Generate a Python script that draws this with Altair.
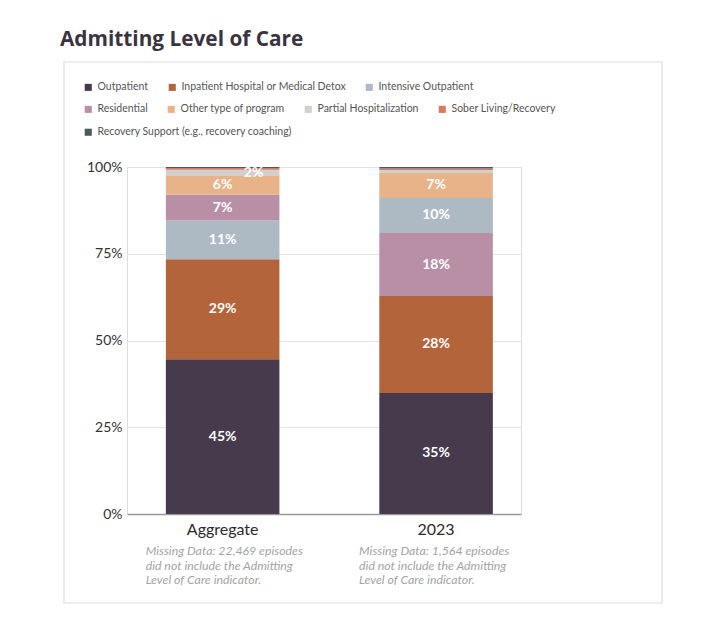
import altair as alt
import pandas as pd

FONT = "Lato"

groups = ["Aggregate", "2023"]
categories = [
    "Outpatient",
    "Inpatient Hospital or Medical Detox",
    "Intensive Outpatient",
    "Residential",
    "Other type of program",
    "Partial Hospitalization",
    "Sober Living/Recovery",
    "Recovery Support (e.g., recovery coaching)",
]
colors = ["#463a4c", "#b3643a", "#adbac4", "#b98fa6", "#e8b388", "#d0d0d0", "#dc7862", "#4b5b5c"]
aggregate_vals = [44.6, 28.8, 11.2, 7.4, 5.6, 1.6, 0.5, 0.3]
y2023_vals = [34.9, 27.9, 10.1, 18.2, 7.2, 0.8, 0.5, 0.4]
notes = [
    "Missing Data: 22,469 episodes\ndid not include the Admitting\nLevel of Care indicator.",
    "Missing Data: 1,564 episodes\ndid not include the Admitting\nLevel of Care indicator.",
]
legend_rows = [[0, 1, 2], [3, 4, 5, 6], [7]]
title_text = "Admitting Level of Care"
y_ticks = [0, 25, 50, 75, 100]

rows = []
for g, vals in zip(groups, [aggregate_vals, y2023_vals]):
    for c, v in zip(categories, vals):
        rows.append({"grp": g, "cat": c, "val": v})
df = pd.DataFrame(rows)
notes_df = pd.DataFrame({"grp": groups, "note": notes})
one = pd.DataFrame({"t": [title_text]})

W, H = 394, 347

x_enc = alt.X(
    "grp:N", sort=groups,
    scale=alt.Scale(paddingInner=0.468, paddingOuter=0.157, align=0.58),
    axis=alt.Axis(title=None, labelAngle=0, labelFontSize=16, labelColor="#2b2b2b",
                  labelPadding=7, ticks=False, domain=True, domainColor="#9a9a9a",
                  domainWidth=1.5, labelFont=FONT, grid=False),
)
y_scale = alt.Scale(domain=[0, 100])
y_axis = alt.Axis(title=None, values=y_ticks, labelExpr="datum.value + '%'", ticks=False,
                  domain=False, grid=True, gridColor="#e2e2e2", labelFontSize=14,
                  labelColor="#333333", labelPadding=5, labelFont=FONT)

base = alt.Chart(df).transform_stack(
    stack="val", groupby=["grp"], as_=["y0", "y1"],
    sort=[alt.SortField("val", order="descending")],
)

legend_tops = [-85, -63, -40]
bar_layers = []
for r, idxs in enumerate(legend_rows):
    cats = [categories[i] for i in idxs]
    cols = [colors[i] for i in idxs]
    layer = base.transform_filter(
        alt.FieldOneOfPredicate(field="cat", oneOf=cats)
    ).mark_bar().encode(
        x=x_enc,
        y=alt.Y("y0:Q", scale=y_scale, axis=y_axis),
        y2="y1:Q",
        color=alt.Color(
            "cat:N",
            scale=alt.Scale(domain=cats, range=cols),
            legend=alt.Legend(
                title=None, orient="none", direction="horizontal", columns=len(cats),
                legendX=-44, legendY=legend_tops[r], symbolType="square", symbolSize=50,
                symbolStrokeWidth=0, labelFontSize=10.5, labelColor="#555555",
                labelFont=FONT, columnPadding=18, labelOffset=4, padding=0,
                labelLimit=400,
            ),
        ),
    )
    bar_layers.append(layer)

labels_big = base.transform_filter("datum.val >= 3").transform_calculate(
    mid="(datum.y0 + datum.y1) / 2", lbl="format(datum.val, '.0f') + '%'"
).mark_text(color="white", fontWeight="bold", fontSize=14, font=FONT, baseline="middle").encode(
    x=x_enc, y=alt.Y("mid:Q", scale=y_scale, axis=y_axis), text="lbl:N"
)
labels_small = base.transform_filter("datum.val >= 1.5 && datum.val < 3").transform_calculate(
    mid="(datum.y0 + datum.y1) / 2", lbl="format(datum.val, '.0f') + '%'"
).mark_text(color="white", fontWeight="bold", fontSize=14, font=FONT, baseline="middle", dx=31).encode(
    x=x_enc, y=alt.Y("mid:Q", scale=y_scale, axis=y_axis), text="lbl:N"
)

notes_layer = alt.Chart(notes_df).mark_text(
    align="left", baseline="alphabetic", dx=-77, lineBreak="\n", lineHeight=14.5,
    fontSize=12.3, fontStyle="italic", color="#a3a3a3", font=FONT,
).encode(x=x_enc, y=alt.value(388), text="note:N")

box = alt.Chart(one).mark_rect(fillOpacity=0, stroke="#dddddd", strokeWidth=1.2).encode(
    x=alt.value(-63), x2=alt.value(535), y=alt.value(-105), y2=alt.value(436)
)
title = alt.Chart(one).mark_text(
    align="left", baseline="alphabetic", fontSize=20.8, fontWeight="bold", color="#3b3340",
    font="Open Sans"
).encode(x=alt.value(-67), y=alt.value(-121), text="t:N")

chart = alt.layer(box, title, *bar_layers, labels_big, labels_small, notes_layer).resolve_scale(
    color="independent"
).properties(
    width=W, height=H,
    autosize=alt.AutoSizeParams(type="none"),
    padding={"left": 119, "top": 159, "right": 170, "bottom": 105},
).configure_view(stroke=None).configure(background="white")

chart.save("out.html", embed_options={"renderer": "svg", "actions": False})
